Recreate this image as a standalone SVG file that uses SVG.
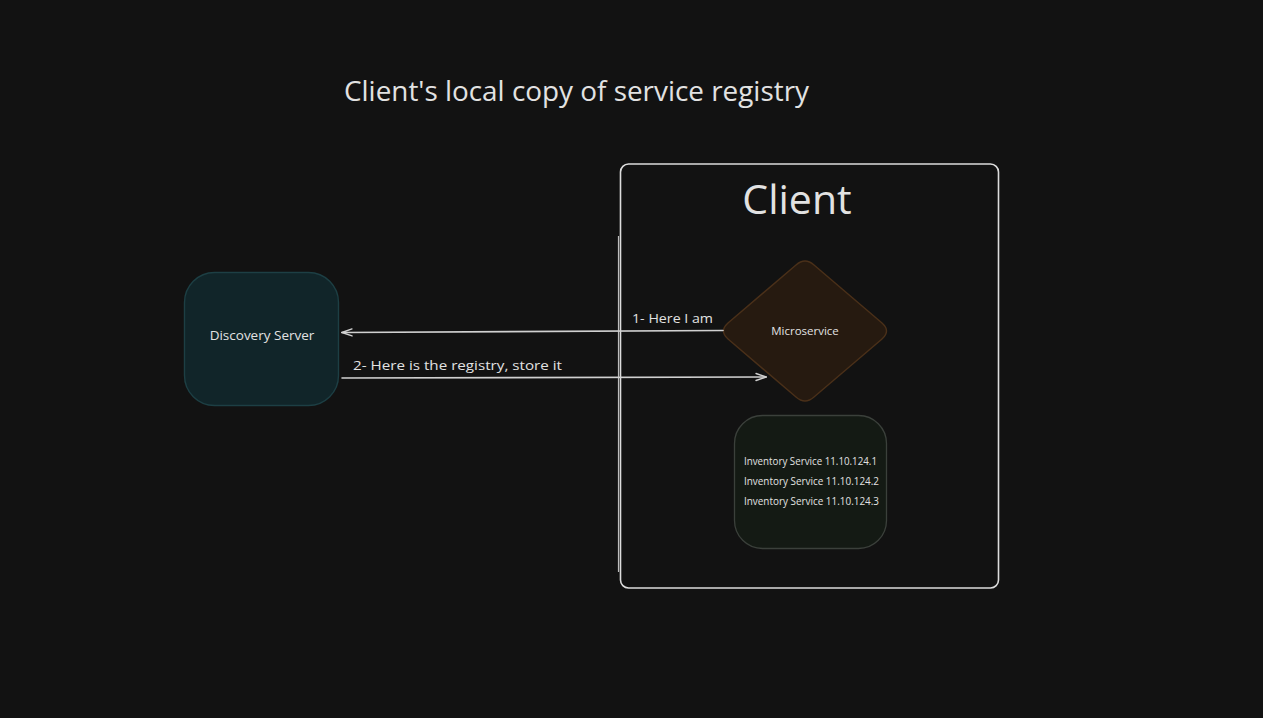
<svg xmlns="http://www.w3.org/2000/svg" width="1263" height="718" viewBox="0 0 1263 718">
  <style>
    .txt { font-family: "Open Sans", "Liberation Sans", sans-serif; fill: #e2e2e2; }
    .conn { stroke: #d0d0d0; stroke-width: 1.6; fill: none; stroke-linecap: round; }
  </style>
  <defs>
    <marker id="arrow" viewBox="0 0 12 10" refX="11" refY="5" markerWidth="12" markerHeight="10" markerUnits="userSpaceOnUse" orient="auto">
      <path d="M1,1.5 L11,5 L1,8.5" fill="none" stroke="#d0d0d0" stroke-width="1.4" stroke-linecap="round"/>
    </marker>
  </defs>
  <rect x="0" y="0" width="1263" height="718" fill="#121212"/>

  <g id="title">
    <text class="txt" x="344" y="101" font-size="27" textLength="465" lengthAdjust="spacingAndGlyphs">Client's local copy of service registry</text>
  </g>

  <g id="client">
    <rect x="620.5" y="164" width="378" height="424" rx="8" fill="none" stroke="#dcdcdc" stroke-width="1.6"/>
    <line x1="618.5" y1="236" x2="618.5" y2="572" stroke="#bdbdbd" stroke-width="1.2"/>
    <text class="txt" x="797" y="214" font-size="41" text-anchor="middle">Client</text>
  </g>

  <g id="discovery-server">
    <rect x="184.5" y="272.5" width="154" height="133" rx="30" fill="#112529" stroke="#1d3f44" stroke-width="1.4"/>
    <text class="txt" x="262" y="340" font-size="13.5" text-anchor="middle">Discovery Server</text>
  </g>

  <g id="microservice">
    <path d="M796,265 Q805,257 814,265 L882,323 Q891,331 882,339 L814,397 Q805,405 796,397 L728,339 Q719,331 728,323 Z" fill="#261a10" stroke="#4a3019" stroke-width="1.4"/>
    <text class="txt" x="805" y="335" font-size="11.5" text-anchor="middle">Microservice</text>
  </g>

  <g id="inventory">
    <rect x="734.5" y="415.5" width="152" height="133" rx="28" fill="#141a14" stroke="#3b403b" stroke-width="1.3"/>
    <text class="txt" x="744" y="465" font-size="10" textLength="133" lengthAdjust="spacingAndGlyphs">Inventory Service 11.10.124.1</text>
    <text class="txt" x="744" y="485" font-size="10" textLength="135" lengthAdjust="spacingAndGlyphs">Inventory Service 11.10.124.2</text>
    <text class="txt" x="744" y="505" font-size="10" textLength="135" lengthAdjust="spacingAndGlyphs">Inventory Service 11.10.124.3</text>
  </g>

  <g id="connectors">
    <line class="conn" x1="723" y1="330.5" x2="342" y2="332.5" marker-end="url(#arrow)"/>
    <text class="txt" x="632" y="323" font-size="12.5" textLength="81" lengthAdjust="spacingAndGlyphs">1- Here I am</text>
    <line class="conn" x1="342" y1="378" x2="766" y2="377" marker-end="url(#arrow)"/>
    <text class="txt" x="353" y="370" font-size="12.5" textLength="209" lengthAdjust="spacingAndGlyphs">2- Here is the registry, store it</text>
  </g>
</svg>
